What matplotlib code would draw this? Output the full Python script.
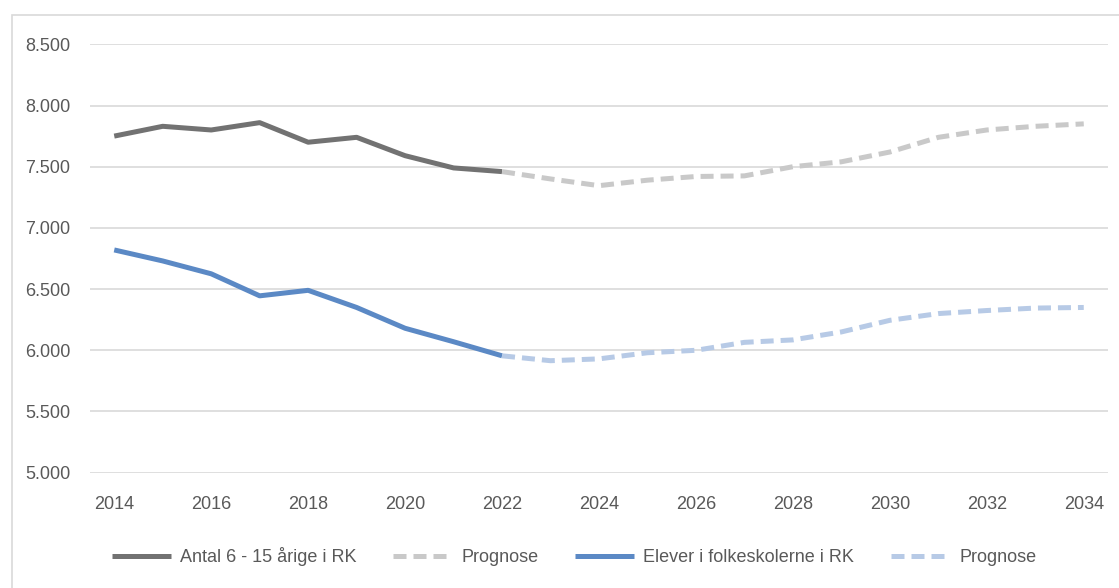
import matplotlib
matplotlib.use("Agg")
import matplotlib.pyplot as plt
from matplotlib.patches import Rectangle

# Data
years = list(range(2014, 2035))
hist_years = list(range(2014, 2023))
prog_years = list(range(2022, 2035))

antal_hist = [7750, 7830, 7800, 7860, 7700, 7740, 7590, 7490, 7460]
antal_prog = [7460, 7400, 7345, 7390, 7420, 7425, 7500, 7540, 7620, 7740, 7800, 7830, 7850]

elever_hist = [6820, 6730, 6625, 6445, 6490, 6350, 6180, 6070, 5955]
elever_prog = [5955, 5915, 5930, 5980, 6000, 6065, 6085, 6150, 6245, 6300, 6325, 6345, 6350]

labels = ["Antal 6 - 15 årige i RK", "Prognose", "Elever i folkeskolerne i RK", "Prognose"]
yticks = [5000, 5500, 6000, 6500, 7000, 7500, 8000, 8500]
xticks = list(range(2014, 2035, 2))

plt.rcParams['font.family'] = ['Liberation Sans', 'DejaVu Sans']

W, H = 1119, 588
fig = plt.figure(figsize=(W / 100, H / 100), dpi=100)

# outer chart border
fig.patches.append(Rectangle((12 / W, -0.1), 1.2, 1 - 15 / H + 0.1, transform=fig.transFigure,
                             fill=False, edgecolor='#d9d9d9', linewidth=1.2))

ax = fig.add_axes([90 / W, 1 - 472.7 / H, (1108 - 90) / W, (472.7 - 44.3) / H])

grey = '#727272'
grey_l = '#c9c9c9'
blue = '#5b89c5'
blue_l = '#b7cae6'
lw = 3.6
dash = (0, (2.6, 1.4))

l1, = ax.plot(hist_years, antal_hist, color=grey, lw=lw, solid_joinstyle='round', solid_capstyle='butt')
l2, = ax.plot(prog_years, antal_prog, color=grey_l, lw=lw, linestyle=dash)
l3, = ax.plot(hist_years, elever_hist, color=blue, lw=lw, solid_joinstyle='round', solid_capstyle='butt')
l4, = ax.plot(prog_years, elever_prog, color=blue_l, lw=lw, linestyle=dash)

ax.set_xlim(2013.5, 2034.5)
ax.set_ylim(5000, 8500)
ax.set_yticks(yticks)
ax.set_yticklabels([f"{v:,}".replace(",", ".") for v in yticks])
ax.set_xticks(xticks)
ax.set_xticklabels([str(x) for x in xticks])
ax.grid(axis='y', color='#d9d9d9', linewidth=1.2)
ax.set_axisbelow(True)
for s in ax.spines.values():
    s.set_visible(False)
ax.tick_params(axis='both', length=0, labelsize=13, colors='#595959')
ax.tick_params(axis='x', pad=17)
ax.tick_params(axis='y', pad=14)

fig.legend([l1, l2, l3, l4], labels, loc='center', bbox_to_anchor=(574 / W, 1 - 557 / H),
           ncol=4, frameon=False, fontsize=13, handlelength=3.27, handletextpad=0.5,
           columnspacing=2.05, labelcolor='#595959')

fig.savefig("out.png", dpi=100)
